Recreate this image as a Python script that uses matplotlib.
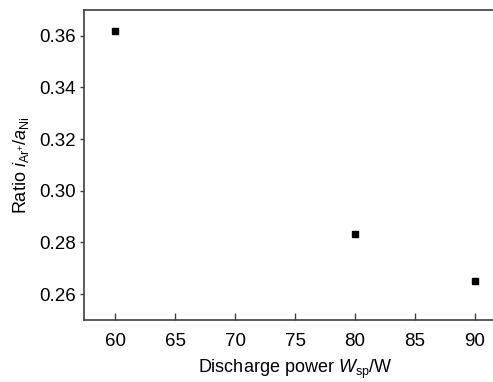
import matplotlib
matplotlib.use("Agg")
import matplotlib.pyplot as plt

# discharge power (W) and ion/atom ratio
power = [60, 80, 90]
ratio = [0.3617, 0.2833, 0.2652]

plt.rcParams['font.family'] = ['Liberation Sans', 'DejaVu Sans']
plt.rcParams['mathtext.fontset'] = 'custom'
plt.rcParams['mathtext.rm'] = 'Liberation Sans'
plt.rcParams['mathtext.it'] = 'Liberation Sans:italic'

fig = plt.figure(figsize=(4.93, 3.82), dpi=100)
ax = fig.add_axes([84 / 493, 62 / 382, 422 / 493, 310 / 382])

ax.plot(power, ratio, 's', color='black', markersize=4.5, linestyle='none')

ax.set_xlim(57.4, 92.6)
ax.set_ylim(0.25, 0.37)
ax.set_xticks([60, 65, 70, 75, 80, 85, 90])
ax.set_yticks([0.26, 0.28, 0.30, 0.32, 0.34, 0.36])
ax.set_yticklabels(['0.26', '0.28', '0.30', '0.32', '0.34', '0.36'])

for s in ax.spines.values():
    s.set_color('#404040')
    s.set_linewidth(1.2)
ax.spines['right'].set_visible(False)

ax.tick_params(axis='x', direction='in', length=5, width=1, colors='#404040',
               labelcolor='black', labelsize=13.5, pad=9)
ax.tick_params(axis='y', direction='out', length=3, width=1, colors='#404040',
               labelcolor='black', labelsize=13.5, pad=3)

ax.set_xlabel(r'Discharge power $\mathit{W}_{\mathrm{sp}}$/W', fontsize=13, labelpad=6)
ax.set_ylabel(r'Ratio $\mathit{i}_{\mathrm{Ar}^{+}}$/$\mathit{a}_{\mathrm{Ni}}$', fontsize=13, labelpad=6)

fig.savefig('out.png', dpi=100)
